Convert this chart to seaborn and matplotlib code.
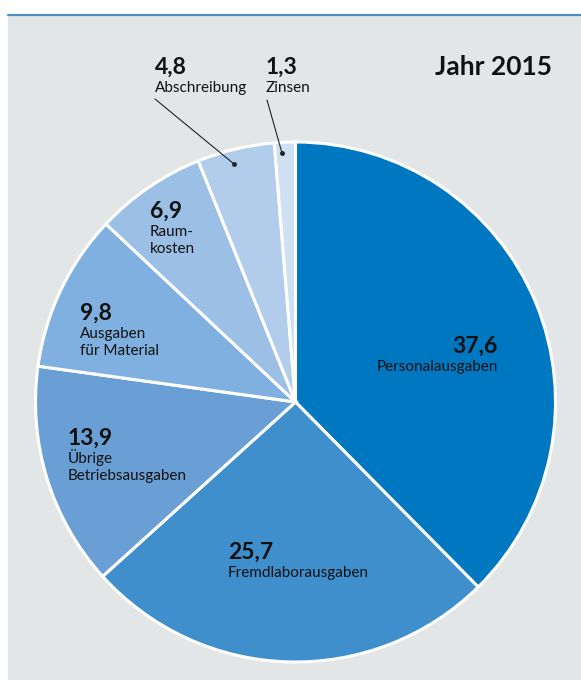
import matplotlib.pyplot as plt
import matplotlib.patches as mpatches
import seaborn as sns

# Kostenanteile in Prozent, Jahr 2015
categories = ["Personalausgaben", "Fremdlaborausgaben", "Übrige\nBetriebsausgaben",
              "Ausgaben\nfür Material", "Raum-\nkosten", "Abschreibung", "Zinsen"]
values = [37.6, 25.7, 13.9, 9.8, 6.9, 4.8, 1.3]
value_labels = ["37,6", "25,7", "13,9", "9,8", "6,9", "4,8", "1,3"]
colors = ["#0077c1", "#3f8fcd", "#6a9fd5", "#80b0df", "#9bbfe5", "#b2cdeb", "#cee0f4"]

W, H = 581, 680
BG = "#e3e6e6"

sns.set_style("white")
plt.rcParams["font.family"] = ["Lato", "DejaVu Sans"]

fig = plt.figure(figsize=(W / 100, H / 100), dpi=100, facecolor="white")
ax = fig.add_axes([0, 0, 1, 1])


def py(y):
    # pixel row (from top) -> data y
    return H - y


# background panel and top rule
ax.add_patch(mpatches.Rectangle((8, 0), W - 8, py(16), color=BG, zorder=0))
ax.plot([8, W], [py(15), py(15)], color="#4a90c8", lw=1.6, zorder=1)

ax.pie(values, colors=colors, startangle=90, counterclock=False,
       center=(295.5, py(402)), radius=260, frame=True,
       wedgeprops=dict(edgecolor="white", linewidth=2.2))

ax.set_xlim(0, W)
ax.set_ylim(0, H)
ax.axis("off")

# label layout: (x, baseline of number, ha)
label_pos = [
    (498, 353, "right"),
    (228, 559, "left"),
    (68, 445, "left"),
    (80, 320, "left"),
    (150, 218, "left"),
    (155, 74, "left"),
    (266, 74, "left"),
]

for cat, val, (x, yb, ha) in zip(categories, value_labels, label_pos):
    ax.text(x, py(yb), val, ha=ha, va="baseline", fontsize=16.5,
            fontweight="bold", color="#111111")
    for i, line in enumerate(cat.split("\n")):
        ax.text(x, py(yb + 18 + i * 17), line, ha=ha, va="baseline",
                fontsize=11, color="#111111")

# leader lines for the small slices
ax.plot([155, 234], [py(99), py(164)], color="#222222", lw=0.8)
ax.plot([234], [py(164)], "o", color="#222222", ms=2.5)
ax.plot([267, 282], [py(100), py(153)], color="#222222", lw=0.8)
ax.plot([282], [py(153)], "o", color="#222222", ms=2.5)

ax.text(552, py(75), "Jahr 2015", ha="right", va="baseline", fontsize=19,
        fontweight="bold", color="#111111")

fig.savefig("out.png", dpi=100, facecolor="white")
